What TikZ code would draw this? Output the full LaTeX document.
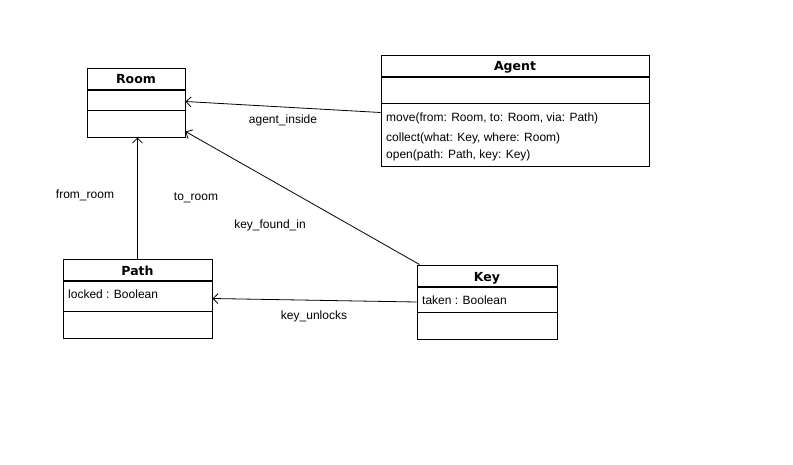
\documentclass[tikz,border=0pt]{standalone}
\usepackage{fontspec}
\setmainfont{Liberation Sans}
\newfontfamily\titlefont{DejaVu Sans}
\usetikzlibrary{arrows.meta}
\tikzset{
  classbox/.style={draw=black, line width=1pt, fill=white, inner sep=0pt},
  titletext/.style={font=\titlefont\bfseries\fontsize{12.5}{14}\selectfont, inner sep=0pt},
  bodytext/.style={font=\fontsize{12}{14}\selectfont, inner sep=0pt, anchor=west},
  lbl/.style={font=\fontsize{12}{14}\selectfont, inner sep=0pt},
  sep/.style={line width=1pt},
  thicksep/.style={line width=2pt},
  assoc/.style={line width=0.8pt, -{Straight Barb[length=5pt,width=10pt,line width=0.8pt]}},
}
\begin{document}
\begin{tikzpicture}[x=1pt,y=-1pt]
\useasboundingbox[fill=white] (0,0) rectangle (793,464);
% Room
\node[classbox, minimum width=98pt, minimum height=69pt] (room) at (136,102.5) {};
\node[titletext] (roomt) at (136,79.5) {Room};
\draw[thicksep] (87,90) -- (185,90);
\draw[sep] (87,110) -- (185,110);
% Agent
\node[classbox, minimum width=268pt, minimum height=111pt] (agent) at (515,110.5) {};
\node[titletext] (agentt) at (515,67.5) {Agent};
\draw[thicksep] (381,77) -- (649,77);
\draw[sep] (381,103) -- (649,103);
\node[bodytext] (m1) at (386,118.5) {move(from: Room, to: Room, via: Path)};
\node[bodytext] (m2) at (386,138) {collect(what: Key, where: Room)};
\node[bodytext] (m3) at (386,155) {open(path: Path, key: Key)};
% Path
\node[classbox, minimum width=149pt, minimum height=79pt] (path) at (137.5,298.5) {};
\node[titletext] (patht) at (137.5,271) {Path};
\draw[thicksep] (63,281) -- (212,281);
\draw[sep] (63,311) -- (212,311);
\node[bodytext] (pa1) at (68,294) {locked : Boolean};
% Key
\node[classbox, minimum width=140pt, minimum height=74pt] (key) at (487,302) {};
\node[titletext] (keyt) at (487,278) {Key};
\draw[thicksep] (417,287) -- (557,287);
\draw[sep] (417,312) -- (557,312);
\node[bodytext] (ka1) at (422,300) {taken : Boolean};
% Connectors
\draw[assoc] ([yshift=-2pt]agent.west) -- ([yshift=1pt]room.east);
\draw[assoc] (path.north) -- (path.north |- room.south);
\draw[assoc] ([xshift=3pt]key.north west) -- ([yshift=6pt]room.south east);
\draw[assoc] (key.west) -- (path.east);
% Labels
\node[lbl] (l1) at (283,120) {agent\_inside};
\node[lbl] (l2) at (85,195) {from\_room};
\node[lbl] (l3) at (196,198) {to\_room};
\node[lbl] (l4) at (270,225) {key\_found\_in};
\node[lbl] (l5) at (314,316) {key\_unlocks};
\end{tikzpicture}
\end{document}
